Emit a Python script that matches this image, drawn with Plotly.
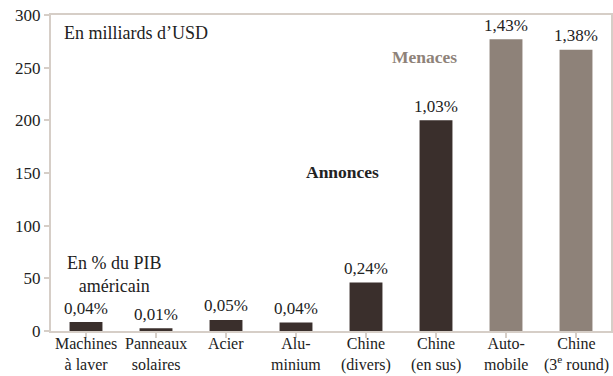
import plotly.graph_objects as go

# Tariff measures, in billions of USD, with their share of US GDP
categories = ["Machines<br>à laver", "Panneaux<br>solaires", "Acier", "Alu-<br>minium",
              "Chine<br>(divers)", "Chine<br>(en sus)", "Auto-<br>mobile", "Chine<br>(3<sup>e</sup> round)"]
values = [8.5, 2.5, 10.5, 8, 46, 200, 277, 267]
pct_gdp = ["0,04%", "0,01%", "0,05%", "0,04%", "0,24%", "1,03%", "1,43%", "1,38%"]
status = ["annonce"] * 6 + ["menace"] * 2

y_ticks = [0, 50, 100, 150, 200, 250, 300]

DARK = "#3a2f2c"
GREY = "#8e8279"
LINE = "#d6cec7"
TXT = "#222222"
FAM = "Liberation Serif"


def f(size, color=TXT):
    return dict(family=FAM, size=size, color=color)


colors = [DARK if s == "annonce" else GREY for s in status]
xs = list(range(len(categories)))

fig = go.Figure(go.Bar(x=xs, y=values, marker_color=colors, width=0.47,
                       marker_line_width=0, hoverinfo="skip"))

annotations = []
# share of GDP above each bar
for x, v, p in zip(xs, values, pct_gdp):
    annotations.append(dict(x=x, y=v, text=p, showarrow=False, yanchor="middle",
                            yshift=14, font=f(17)))
# category labels under the axis
for x, c in zip(xs, categories):
    annotations.append(dict(x=x, yref="paper", y=0, text=c, showarrow=False,
                            yanchor="top", yshift=-2, font=f(16)))

annotations += [
    dict(xref="paper", x=0.02, y=283, text="En milliards d’USD", showarrow=False,
         xanchor="left", font=f(18)),
    dict(x=0.4, y=54, text="En % du PIB<br>américain", showarrow=False, font=f(18)),
    dict(x=3.66, y=151, text="<b>Annonces</b>", showarrow=False, font=f(17.5)),
    dict(x=4.84, y=260, text="<b>Menaces</b>", showarrow=False, font=f(17.5, GREY)),
]

fig.update_layout(
    width=613, height=376,
    margin=dict(l=51, r=2, t=15, b=45),
    paper_bgcolor="white", plot_bgcolor="white",
    font=f(16),
    showlegend=False,
    annotations=annotations,
)
fig.update_xaxes(
    tickmode="array", tickvals=xs, showticklabels=False, range=[-0.5, 7.5],
    showline=True, linecolor=LINE, linewidth=2, mirror=True,
    ticks="outside", tickson="boundaries", ticklen=5, tickcolor=LINE, tickwidth=2,
    showgrid=False, zeroline=False, automargin=False,
)
fig.update_yaxes(
    range=[0, 300], tickvals=y_ticks, showline=True, linecolor=LINE, linewidth=2,
    mirror=True, ticks="outside", ticklen=5, tickcolor=LINE, tickwidth=2,
    tickfont=f(17), showgrid=False, zeroline=False, automargin=False,
)

fig.write_html("out.html")
